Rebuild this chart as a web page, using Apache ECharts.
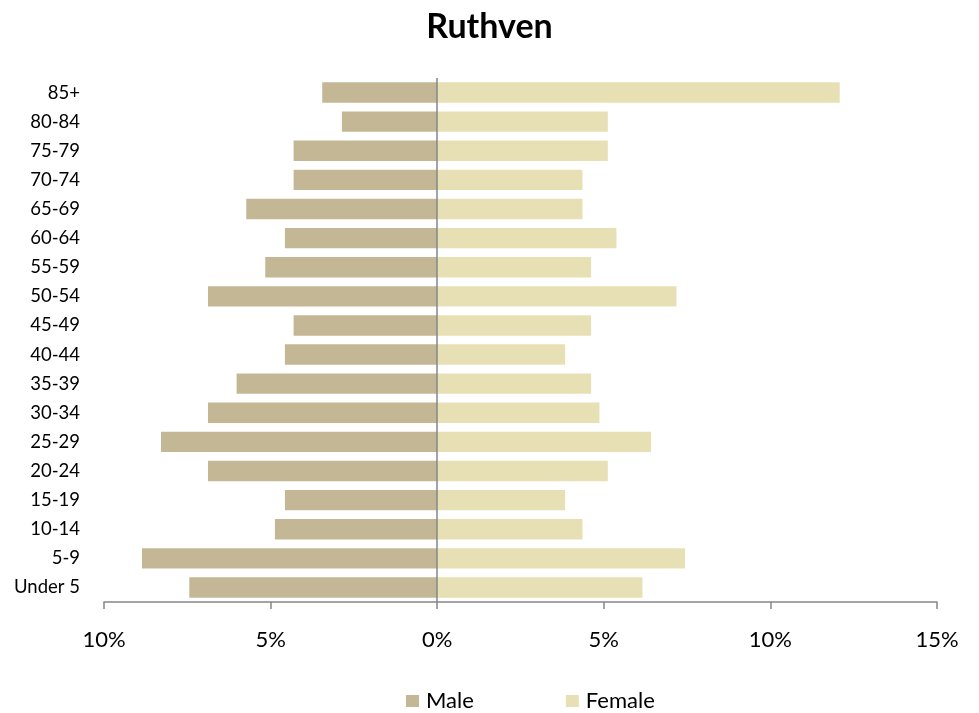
<!DOCTYPE html>
<html>
<head>
<meta charset="utf-8">
<script src="https://cdn.jsdelivr.net/npm/echarts@6/dist/echarts.min.js"></script>
<style>html,body{margin:0;padding:0;background:#fff}#chart{width:979px;height:713px}</style>
</head>
<body>
<div id="chart"></div>
<script>
const categories = ['Under 5','5-9','10-14','15-19','20-24','25-29','30-34','35-39','40-44','45-49','50-54','55-59','60-64','65-69','70-74','75-79','80-84','85+'];
const maleValues = [7.44, 8.86, 4.87, 4.57, 6.88, 8.29, 6.88, 6.02, 4.57, 4.31, 6.88, 5.16, 4.57, 5.73, 4.31, 4.31, 2.86, 3.45];
const femaleValues = [6.16, 7.44, 4.36, 3.84, 5.12, 6.42, 4.87, 4.62, 3.84, 4.62, 7.18, 4.62, 5.38, 4.36, 4.36, 5.12, 5.12, 12.08];
const xTicks = {min: -10, max: 15, interval: 5};

const font = 'Lato, "Open Sans", sans-serif';
const chart = echarts.init(document.getElementById('chart'));
chart.setOption({
  animation: false,
  textStyle: {fontFamily: font},
  title: {
    text: 'Ruthven', left: 'center', top: 5,
    textStyle: {fontFamily: font, fontSize: 34, fontWeight: 'bold', color: '#000'}
  },
  legend: {
    top: 685, left: 401, itemWidth: 13, itemHeight: 12, itemGap: 92,
    icon: 'rect',
    textStyle: {fontFamily: font, fontSize: 22, color: '#000', padding: [0, 0, 0, 2]},
    data: ['Male', 'Female']
  },
  grid: {left: 104, right: 42, top: 78, bottom: 111, containLabel: false},
  xAxis: {
    type: 'value', min: xTicks.min, max: xTicks.max, interval: xTicks.interval,
    axisLine: {show: true, lineStyle: {color: '#868686', width: 1.5}},
    axisTick: {show: true, length: 7, lineStyle: {color: '#868686', width: 1.5}},
    splitLine: {show: false},
    axisLabel: {
      margin: 27, fontSize: 22, color: '#000', fontFamily: font,
      formatter: v => Math.abs(v) + '%'
    }
  },
  yAxis: {
    type: 'category', data: categories,
    axisLine: {show: false, onZero: false},
    axisTick: {show: false},
    axisLabel: {margin: 24, fontSize: 18.5, color: '#000', fontFamily: font}
  },
  series: [
    {
      name: 'Male', type: 'bar', stack: 'pop', barCategoryGap: '30%',
      itemStyle: {color: '#C4B795'},
      data: maleValues.map(v => -v),
      markLine: {
        silent: true, symbol: 'none', label: {show: false},
        lineStyle: {color: '#868686', width: 1.5, type: 'solid'},
        data: [{xAxis: 0}]
      }
    },
    {
      name: 'Female', type: 'bar', stack: 'pop', barCategoryGap: '30%',
      itemStyle: {color: '#E8E0B5'},
      data: femaleValues
    }
  ]
});
</script>
</body>
</html>
